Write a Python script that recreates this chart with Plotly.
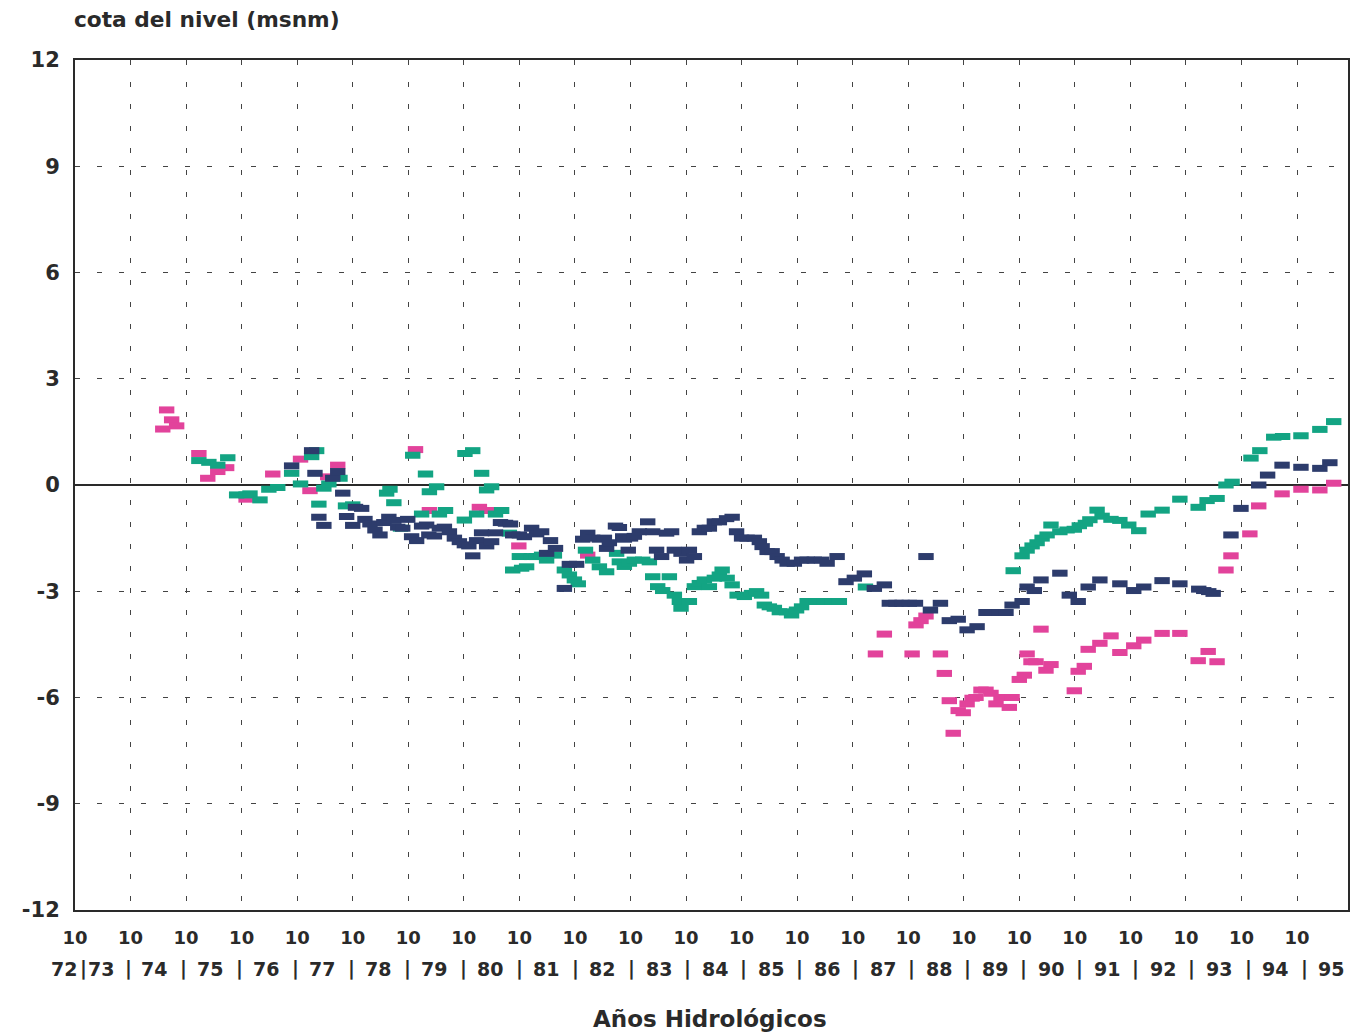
import plotly.graph_objects as go

# ---------------- data (decimal hydrological years, metres) ----------------
pink_x = [1974.33,1974.40,1974.49,1974.58,1974.98,1975.14,1975.32,1975.48,1975.83,1976.31,
          1976.81,1976.98,1977.30,1977.48,1978.88,1979.13,1980.03,1980.16,1980.74,1981.98,
          1987.16,1987.32,1987.82,1987.89,1987.98,1988.07,1988.33,1988.40,1988.49,1988.56,
          1988.65,1988.74,1988.81,1988.90,1988.97,1989.06,1989.15,1989.24,1989.33,1989.42,
          1989.57,1989.62,1989.75,1989.84,1989.89,1989.96,1990.05,1990.14,1990.23,1990.32,
          1990.74,1990.81,1990.92,1990.99,1991.20,1991.40,1991.56,1991.81,1991.99,1992.32,
          1992.64,1992.97,1993.15,1993.31,1993.47,1993.56,1993.90,1994.06,1994.48,1994.82,
          1995.16,1995.41]
pink_y = [1.58,2.12,1.84,1.67,0.89,0.19,0.38,0.49,-0.40,0.31,
          0.73,-0.16,0.23,0.56,1.00,-0.72,-0.63,-0.72,-1.72,-1.98,
          -4.77,-4.21,-4.77,-3.95,-3.83,-3.70,-4.77,-5.32,-6.09,-7.01,
          -6.37,-6.43,-6.18,-6.02,-6.00,-5.79,-5.79,-5.88,-6.18,-6.00,
          -6.28,-6.00,-5.49,-5.37,-4.77,-4.99,-4.99,-4.07,-5.23,-5.07,
          -5.81,-5.26,-5.12,-4.64,-4.47,-4.26,-4.73,-4.54,-4.38,-4.19,
          -4.19,-4.96,-4.70,-4.99,-2.40,-2.00,-1.38,-0.59,-0.25,-0.12,
          -0.14,0.05]

teal_x = [1974.98,1975.16,1975.32,1975.50,1975.66,1975.83,1975.90,1976.08,1976.24,1976.40,
          1976.65,1976.81,1977.01,1977.10,1977.14,1977.23,1977.32,1977.52,1977.62,1977.75,
          1978.36,1978.42,1978.49,1978.61,1978.83,1978.99,1979.06,1979.13,1979.26,1979.31,
          1979.42,1979.76,1979.77,1979.91,1979.98,1980.07,1980.16,1980.25,1980.32,1980.43,
          1980.57,1980.63,1980.75,1980.79,1980.88,1980.97,1981.06,1981.15,1981.24,1981.38,
          1981.56,1981.65,1981.74,1981.81,1981.94,1982.07,1982.19,1982.32,1982.50,1982.55,
          1982.64,1982.73,1982.82,1982.97,1983.09,1983.15,1983.24,1983.33,1983.45,1983.54,
          1983.63,1983.66,1983.81,1983.90,1983.99,1984.08,1984.17,1984.26,1984.35,1984.40,
          1984.49,1984.58,1984.67,1984.80,1984.93,1985.02,1985.11,1985.16,1985.25,1985.34,
          1985.43,1985.56,1985.65,1985.74,1985.83,1985.93,1986.10,1986.24,1986.38,1986.51,
          1986.98,1989.64,1989.80,1989.89,1989.98,1990.07,1990.16,1990.25,1990.32,1990.48,
          1990.61,1990.74,1990.83,1990.94,1991.02,1991.15,1991.24,1991.40,1991.56,1991.72,
          1991.90,1992.07,1992.32,1992.64,1992.97,1993.13,1993.31,1993.47,1993.58,1993.92,
          1994.08,1994.33,1994.49,1994.82,1995.16,1995.41]
teal_y = [0.69,0.64,0.56,0.77,-0.28,-0.28,-0.25,-0.42,-0.12,-0.07,
          0.33,0.03,0.80,0.97,-0.54,-0.09,0.03,0.19,-0.59,-0.56,
          -0.23,-0.12,-0.50,-1.22,0.84,-0.82,0.31,-0.19,-0.05,-0.82,
          -0.72,-0.99,0.89,0.97,-0.82,0.33,-0.14,-0.05,-0.82,-0.72,
          -1.36,-2.40,-2.02,-2.35,-2.31,-2.02,-2.02,-1.98,-2.12,-1.98,
          -2.40,-2.54,-2.68,-2.79,-1.84,-2.12,-2.31,-2.45,-1.93,-2.17,
          -2.30,-2.21,-2.12,-2.12,-2.17,-2.59,-2.87,-2.98,-2.59,-3.11,
          -3.29,-3.48,-3.29,-2.87,-2.78,-2.68,-2.87,-2.63,-2.54,-2.40,
          -2.63,-2.82,-3.11,-3.15,-3.06,-3.01,-3.11,-3.39,-3.44,-3.48,
          -3.58,-3.58,-3.67,-3.53,-3.44,-3.29,-3.29,-3.29,-3.29,-3.29,
          -2.88,-2.42,-2.00,-1.84,-1.72,-1.63,-1.50,-1.41,-1.13,-1.32,
          -1.27,-1.25,-1.15,-1.08,-0.98,-0.71,-0.88,-0.97,-1.00,-1.13,
          -1.29,-0.82,-0.71,-0.40,-0.63,-0.44,-0.38,0.00,0.08,0.76,
          0.97,1.35,1.37,1.39,1.57,1.79]

navy_x = [1976.65,1977.01,1977.07,1977.14,1977.23,1977.39,1977.48,1977.57,1977.64,1977.75,
          1977.80,1977.91,1977.97,1978.06,1978.15,1978.24,1978.31,1978.40,1978.49,1978.56,
          1978.65,1978.74,1978.81,1978.90,1978.99,1979.08,1979.12,1979.22,1979.31,1979.40,
          1979.49,1979.58,1979.67,1979.76,1979.84,1979.91,1979.98,1980.07,1980.16,1980.25,
          1980.32,1980.41,1980.50,1980.59,1980.63,1980.75,1980.84,1980.97,1981.06,1981.15,
          1981.24,1981.31,1981.40,1981.56,1981.65,1981.78,1981.89,1981.98,1982.07,1982.19,
          1982.28,1982.32,1982.37,1982.48,1982.55,1982.61,1982.64,1982.71,1982.75,1982.82,
          1982.91,1983.06,1983.15,1983.22,1983.31,1983.40,1983.49,1983.54,1983.66,1983.76,
          1983.81,1983.90,1983.99,1984.08,1984.17,1984.26,1984.35,1984.48,1984.58,1984.66,
          1984.75,1984.85,1984.98,1985.07,1985.12,1985.21,1985.30,1985.39,1985.48,1985.57,
          1985.70,1985.83,1985.93,1986.06,1986.19,1986.29,1986.47,1986.63,1986.78,1986.96,
          1987.14,1987.32,1987.41,1987.53,1987.64,1987.77,1987.88,1988.07,1988.15,1988.33,
          1988.49,1988.65,1988.81,1988.99,1989.15,1989.26,1989.39,1989.51,1989.62,1989.80,
          1989.89,1990.02,1990.14,1990.48,1990.65,1990.81,1990.99,1991.20,1991.56,1991.81,
          1991.99,1992.32,1992.64,1992.98,1993.07,1993.16,1993.24,1993.56,1993.74,1994.06,
          1994.22,1994.48,1994.82,1995.16,1995.34]
navy_y = [0.54,0.97,0.33,-0.91,-1.14,0.19,0.38,-0.23,-0.89,-1.14,
          -0.63,-0.66,-0.97,-1.10,-1.27,-1.41,-1.06,-0.91,-1.00,-1.19,
          -1.22,-0.97,-1.46,-1.57,-1.16,-1.13,-1.41,-1.44,-1.22,-1.19,
          -1.32,-1.50,-1.60,-1.69,-1.72,-2.00,-1.57,-1.35,-1.72,-1.60,
          -1.35,-1.06,-1.08,-1.10,-1.41,-1.41,-1.46,-1.22,-1.38,-1.32,
          -1.93,-1.57,-1.79,-2.92,-2.24,-2.24,-1.53,-1.36,-1.50,-1.53,
          -1.50,-1.79,-1.63,-1.16,-1.20,-1.46,-1.53,-1.84,-1.50,-1.45,
          -1.32,-1.04,-1.32,-1.84,-2.02,-1.36,-1.32,-1.84,-1.93,-2.12,
          -1.84,-2.02,-1.32,-1.22,-1.22,-1.04,-1.04,-0.95,-0.91,-1.32,
          -1.50,-1.50,-1.50,-1.60,-1.74,-1.88,-1.88,-2.02,-2.12,-2.21,
          -2.21,-2.12,-2.12,-2.12,-2.12,-2.21,-2.02,-2.73,-2.63,-2.51,
          -2.92,-2.82,-3.34,-3.34,-3.34,-3.34,-3.34,-2.02,-3.53,-3.34,
          -3.83,-3.79,-4.09,-4.00,-3.60,-3.60,-3.60,-3.60,-3.39,-3.29,
          -2.88,-2.98,-2.68,-2.49,-3.11,-3.29,-2.88,-2.68,-2.79,-2.98,
          -2.88,-2.70,-2.79,-2.94,-2.98,-3.01,-3.06,-1.41,-0.66,0.00,
          0.28,0.56,0.50,0.47,0.63]

# axis ticks: October (month 10) of each hydrological year 1972..1994
tick_years = list(range(1972, 1995))
tick_month = "10"
year_labels = ["72", "73"] + [str(y) for y in range(74, 96)]
y_ticks = [12, 9, 6, 3, 0, -3, -6, -9, -12]
y_ticklabels = ["12", "9", "6", "3", "0", "-3", "-6", "-9", "-12"]

PINK = "#e2439b"
TEAL = "#13a483"
NAVY = "#2d3c6c"
INK = "#2a2a2a"
FONT = "DejaVu Sans, Liberation Sans, Arial, sans-serif"

tickvals = [y + 0.75 for y in tick_years]
x0, x1 = 1972.75, 1995.667

fig = go.Figure()
for xs, ys, col, name in [(pink_x, pink_y, PINK, "pink"),
                          (teal_x, teal_y, TEAL, "teal"),
                          (navy_x, navy_y, NAVY, "navy")]:
    assert len(xs) == len(ys), name
    fig.add_trace(go.Scatter(
        x=xs, y=ys, mode="markers", name=name, showlegend=False,
        marker=dict(symbol="line-ew", size=11, color=col,
                    line=dict(width=7, color=col))))

# page body has an 8 px margin: plot area lands at x 75..1348, y 60..910
L, T, PW, PH = 67, 52, 1273, 850
FW, FH = 1358, 1026
fig.update_layout(
    width=FW, height=FH,
    margin=dict(l=L, r=FW - L - PW, t=T, b=FH - T - PH),
    paper_bgcolor="white", plot_bgcolor="white",
    font=dict(family=FONT, size=18, color=INK, weight="bold"),
    xaxis=dict(range=[x0, x1], tickvals=tickvals,
               ticktext=[tick_month] * len(tickvals),
               showgrid=True, gridcolor="#444444", gridwidth=1.2,
               griddash="5px,17px",
               showline=True, linecolor=INK, linewidth=2, mirror=True,
               ticks="", zeroline=False, ticklabelstandoff=10,
               tickfont=dict(family=FONT, size=18, color=INK, weight="bold")),
    yaxis=dict(range=[-12, 12], tickvals=y_ticks, ticktext=y_ticklabels,
               showgrid=True, gridcolor="#444444", gridwidth=1.2,
               griddash="5px,17px",
               zeroline=True, zerolinecolor=INK, zerolinewidth=2,
               showline=True, linecolor=INK, linewidth=2, mirror=True,
               ticks="", ticklabelstandoff=9,
               tickfont=dict(family=FONT, size=21, color=INK, weight="bold")),
)

# second row of x labels (hydrological years) and separators
def px_to_paper(px):
    return (px - 75) / PW

def py_to_paper(py):
    return (910 - py) / PH

label_px = [64, 101] + [98 + 56.05 * (n - 73) for n in range(74, 96)]
row_y = py_to_paper(969)
for lab, px in zip(year_labels, label_px):
    fig.add_annotation(x=px_to_paper(px), y=row_y, xref="paper", yref="paper",
                       text=lab, showarrow=False, xanchor="center", yanchor="middle",
                       font=dict(family=FONT, size=19, color=INK, weight="bold"))
for a, b in zip(label_px[:-1], label_px[1:]):
    fig.add_annotation(x=px_to_paper((a + b) / 2 + 1), y=row_y, xref="paper", yref="paper",
                       text="|", showarrow=False, xanchor="center", yanchor="middle",
                       font=dict(family=FONT, size=19, color=INK, weight="bold"))

fig.add_annotation(x=px_to_paper(72), y=py_to_paper(20), xref="paper", yref="paper",
                   text="cota del nivel (msnm)", showarrow=False,
                   xanchor="left", yanchor="middle",
                   font=dict(family=FONT, size=21.7, color=INK, weight="bold"))
fig.add_annotation(x=px_to_paper(710), y=py_to_paper(1019), xref="paper", yref="paper",
                   text="Años Hidrológicos", showarrow=False,
                   xanchor="center", yanchor="middle",
                   font=dict(family=FONT, size=23, color=INK, weight="bold"))

fig.write_html("out.html")
